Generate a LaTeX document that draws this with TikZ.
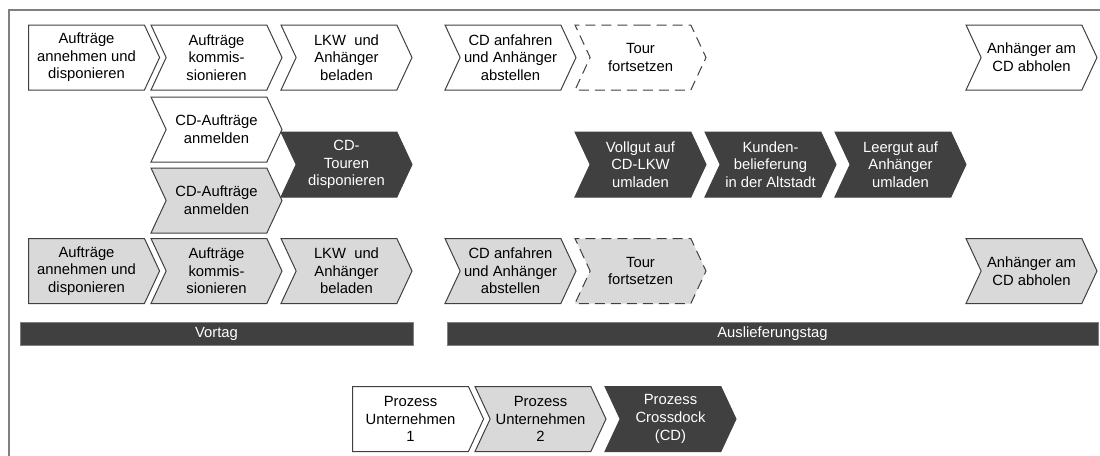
\documentclass[tikz,border=0pt]{standalone}
\usepackage{fontspec}
\setmainfont{Liberation Sans}
\usetikzlibrary{shapes.symbols}
\definecolor{hellgrau}{HTML}{D9D9D9}
\definecolor{dunkelgrau}{HTML}{404040}

\begin{document}
\begin{tikzpicture}[x=5pt,y=-5pt,
  font=\fontsize{7.4}{8.8}\selectfont,
  pfeil/.style={signal, signal to=east, signal from=west,
    signal pointer angle=130, minimum width=65.5pt, minimum height=32.5pt,
    inner sep=0pt, align=center, draw=dunkelgrau, line width=0.5pt},
  erster/.style={pfeil, signal from=nowhere},
  weiss/.style={fill=white},
  grau/.style={fill=hellgrau},
  cd/.style={fill=dunkelgrau, text=white},
  offen/.style={dash pattern=on 5pt off 3pt},
  tagbalken/.style={fill=dunkelgrau, draw=gray, line width=0.5pt, text=white,
    minimum height=11.5pt, inner sep=0pt}]
\useasboundingbox (0,0) rectangle (110,45.6);
\draw [gray, line width=0.8pt] (110,1) -- (0.9,1) -- (0.9,45.6);
% Unternehmen 1
\node [erster, weiss] (auftr1) at (8.65,5.75) {Aufträge\\annehmen und\\disponieren};
\node [pfeil, weiss] (komm1) at (21.65,5.75) {Aufträge\\kommis-\\sionieren};
\node [pfeil, weiss] (lkw1) at (34.65,5.75) {LKW~ und\\Anhänger\\beladen};
\node [pfeil, weiss] (cdan1) at (51.05,5.75) {CD anfahren\\und Anhänger\\abstellen};
\node [pfeil, weiss, offen] (tour1) at (64.05,5.75) {Tour\\fortsetzen};
\node [pfeil, weiss] (abhol1) at (103.15,5.75) {Anhänger am\\CD abholen};
\node [pfeil, weiss] (meld1) at (21.65,12.95) {CD-Aufträge\\anmelden};
% Crossdock
\node [pfeil, cd] (cdtour) at (34.65,16.45) {CD-\\Touren\\disponieren};
\node [pfeil, cd] (vollgut) at (64.05,16.45) {Vollgut auf\\CD-LKW\\umladen};
\node [pfeil, cd] (kunden) at (77.05,16.45) {Kunden-\\belieferung\\in der Altstadt};
\node [pfeil, cd] (leergut) at (90.05,16.45) {Leergut auf\\Anhänger\\umladen};
% Unternehmen 2
\node [pfeil, grau] (meld2) at (21.65,20.05) {CD-Aufträge\\anmelden};
\node [erster, grau] (auftr2) at (8.65,27.1) {Aufträge\\annehmen und\\disponieren};
\node [pfeil, grau] (komm2) at (21.65,27.1) {Aufträge\\kommis-\\sionieren};
\node [pfeil, grau] (lkw2) at (34.65,27.1) {LKW~ und\\Anhänger\\beladen};
\node [pfeil, grau] (cdan2) at (51.05,27.1) {CD anfahren\\und Anhänger\\abstellen};
\node [pfeil, grau, offen] (tour2) at (64.05,27.1) {Tour\\fortsetzen};
\node [pfeil, grau] (abhol2) at (103.15,27.1) {Anhänger am\\CD abholen};
% Tage
\node [tagbalken, minimum width=196.5pt] (vortag) at (21.65,33.35) {Vortag};
\node [tagbalken, minimum width=325.5pt] (auslief) at (77.25,33.35) {Auslieferungstag};
% Legende
\node [erster, weiss] (leg1) at (41.05,41.9) {Prozess\\Unternehmen\\1};
\node [pfeil, grau] (leg2) at (54.05,41.9) {Prozess\\Unternehmen\\2};
\node [pfeil, cd] (leg3) at (67.05,41.9) {Prozess\\Crossdock\\(CD)};
\end{tikzpicture}
\end{document}
